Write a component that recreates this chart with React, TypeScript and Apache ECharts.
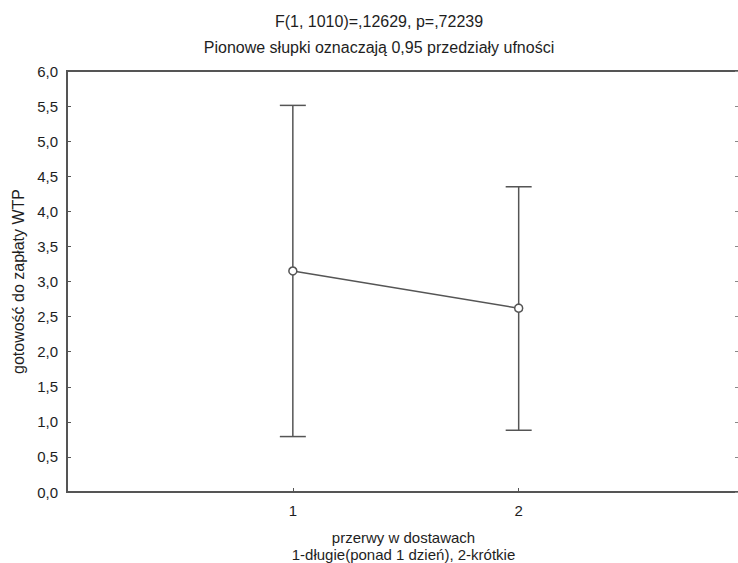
import React, { useEffect, useRef } from "react";
import * as echarts from "echarts";

// Group codes on the x axis and the mean WTP with its 95% confidence interval
const groups = [1, 2];
const means = [3.15, 2.62];
const ciLower = [0.79, 0.88];
const ciUpper = [5.51, 4.35];

const yTicks = [0, 0.5, 1, 1.5, 2, 2.5, 3, 3.5, 4, 4.5, 5, 5.5, 6];

const titleText = "F(1, 1010)=,12629, p=,72239";
const subtitleText = "Pionowe słupki oznaczają 0,95 przedziały ufności";
const yName = "gotowość do zapłaty WTP";
const xName = "przerwy w dostawach\n1-długie(ponad 1 dzień), 2-krótkie";

const FONT = "'Liberation Sans', Arial, sans-serif";
const INK = "#1e1e1e";
const LINE = "#555555";

export default function App() {
  const ref = useRef<HTMLDivElement>(null);

  useEffect(() => {
    if (!ref.current) return;
    const chart = echarts.init(ref.current, undefined, { renderer: "svg" });

    const fmt = (v: number) => v.toFixed(1).replace(".", ",");

    chart.setOption({
      animation: false,
      backgroundColor: "#ffffff",
      textStyle: { fontFamily: FONT },
      title: [
        {
          text: titleText,
          left: 374,
          top: 8,
          textAlign: "center",
          textStyle: { fontFamily: FONT, fontSize: 16, fontWeight: "normal", color: INK },
        },
        {
          text: subtitleText,
          left: 374,
          top: 34,
          textAlign: "center",
          textStyle: { fontFamily: FONT, fontSize: 16, fontWeight: "normal", color: INK },
        },
      ],
      grid: {
        left: 67,
        top: 71,
        width: 673,
        height: 421,
        outerBoundsMode: "none",
        containLabel: false,
        show: true,
        borderColor: LINE,
        borderWidth: 2,
        backgroundColor: "#ffffff",
      },
      xAxis: {
        type: "value",
        min: 0,
        max: 2.98,
        interval: 1,
        name: xName,
        nameLocation: "middle",
        nameGap: 37,
        nameTextStyle: { fontFamily: FONT, fontSize: 15, color: INK, lineHeight: 17 },
        axisLine: { show: true, onZero: false, lineStyle: { color: LINE, width: 2 } },
        axisTick: { show: true, inside: true, length: 4, lineStyle: { color: LINE } },
        axisLabel: {
          margin: 11,
          fontFamily: FONT,
          fontSize: 15,
          color: INK,
          formatter: (v: number) => (groups.includes(v) ? String(v) : ""),
        },
        splitLine: { show: false },
      },
      yAxis: [
        {
          type: "value",
          min: 0,
          max: 6,
          interval: 0.5,
          name: yName,
          nameLocation: "middle",
          nameGap: 40,
          nameTextStyle: { fontFamily: FONT, fontSize: 16, color: INK },
          axisLine: { show: true, lineStyle: { color: LINE, width: 2 } },
          axisTick: { show: true, inside: true, length: 4, lineStyle: { color: LINE } },
          axisLabel: {
            margin: 9,
            fontFamily: FONT,
            fontSize: 15,
            color: INK,
            formatter: (v: number) => (yTicks.includes(v) ? fmt(v) : ""),
          },
          splitLine: { show: false },
        },
        {
          type: "value",
          position: "right",
          min: 0,
          max: 6,
          interval: 0.5,
          axisLine: { show: true, lineStyle: { color: LINE, width: 2 } },
          axisTick: { show: true, inside: true, length: 5, lineStyle: { color: "#888888" } },
          axisLabel: { show: false },
          splitLine: { show: false },
        },
      ],
      series: [
        {
          type: "custom",
          name: "CI",
          z: 2,
          data: groups.map((g, i) => [g, ciLower[i], ciUpper[i]]),
          renderItem: (params: any, api: any) => {
            const x = api.value(0);
            const lo = api.coord([x, api.value(1)]);
            const hi = api.coord([x, api.value(2)]);
            const half = 13;
            const style = { stroke: LINE, lineWidth: 1.5 };
            return {
              type: "group",
              children: [
                { type: "line", shape: { x1: lo[0], y1: lo[1], x2: hi[0], y2: hi[1] }, style },
                { type: "line", shape: { x1: hi[0] - half, y1: hi[1], x2: hi[0] + half, y2: hi[1] }, style },
                { type: "line", shape: { x1: lo[0] - half, y1: lo[1], x2: lo[0] + half, y2: lo[1] }, style },
              ],
            };
          },
        },
        {
          type: "line",
          name: "Średnia",
          z: 3,
          data: groups.map((g, i) => [g, means[i]]),
          symbol: "circle",
          symbolSize: 8,
          lineStyle: { color: LINE, width: 1.5 },
          itemStyle: { color: "#ffffff", borderColor: LINE, borderWidth: 1.5 },
        },
      ],
    });

    return () => chart.dispose();
  }, []);

  return (
    <div
      ref={ref}
      style={{ position: "absolute", left: 0, top: 0, width: 738, height: 563 }}
    />
  );
}
